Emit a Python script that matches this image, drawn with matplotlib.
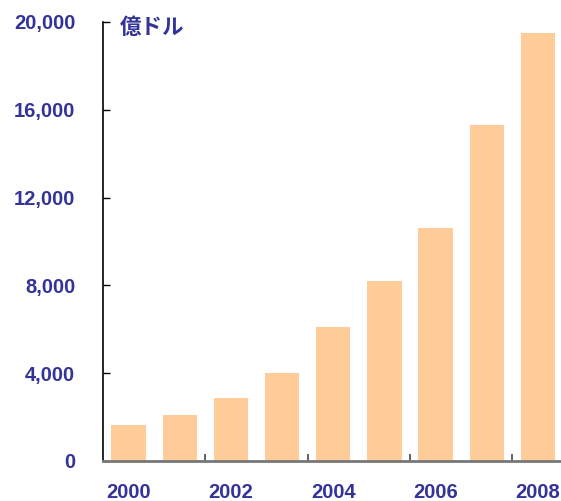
import matplotlib.pyplot as plt
from matplotlib.ticker import FuncFormatter, FixedLocator

plt.rcParams['font.family'] = ['Liberation Sans', 'Noto Sans CJK JP', 'DejaVu Sans']

years = [2000, 2001, 2002, 2003, 2004, 2005, 2006, 2007, 2008]
values = [1650, 2100, 2850, 4000, 6100, 8200, 10600, 15300, 19500]
year_labels = ['2000', '2002', '2004', '2006', '2008']
yticks = [0, 4000, 8000, 12000, 16000, 20000]
unit = '億ドル'

blue = '#333399'
bar_color = '#FFCC99'

fig = plt.figure(figsize=(5.61, 5.01), dpi=100)
ax = fig.add_axes([103 / 561, 40 / 501, 458 / 561, 439 / 501])

ax.bar(years, values, width=0.67, color=bar_color, zorder=2)

ax.set_xlim(1999.5, 2008.45)
ax.set_ylim(0, 20000)

ax.set_yticks(yticks)
ax.yaxis.set_major_formatter(FuncFormatter(lambda v, p: f'{int(v):,}'))
ax.tick_params(axis='y', direction='in', length=5, width=1, color='black',
               labelsize=14.5, labelcolor=blue, pad=20)

ax.set_xticks([int(y) for y in year_labels])
ax.set_xticklabels(year_labels)
ax.xaxis.set_minor_locator(FixedLocator([2001.5, 2003.5, 2005.5, 2007.5]))
ax.tick_params(axis='x', which='major', length=0, labelsize=14.5,
               labelcolor=blue, pad=16)
ax.tick_params(axis='x', which='minor', direction='in', length=5,
               width=1.3, color='#555555')

for lbl in ax.get_xticklabels() + ax.get_yticklabels():
    lbl.set_fontweight('bold')

for side in ['top', 'right']:
    ax.spines[side].set_visible(False)
ax.spines['left'].set_color('black')
ax.spines['left'].set_linewidth(1.2)
ax.spines['bottom'].set_color('#777777')
ax.spines['bottom'].set_linewidth(2)

fig.text(120 / 561, 1 - 27 / 501, unit, fontsize=15.5, fontweight='bold',
         color=blue, family=['Noto Sans CJK JP', 'DejaVu Sans'],
         va='center', ha='left')

fig.savefig('out.png', dpi=100)
